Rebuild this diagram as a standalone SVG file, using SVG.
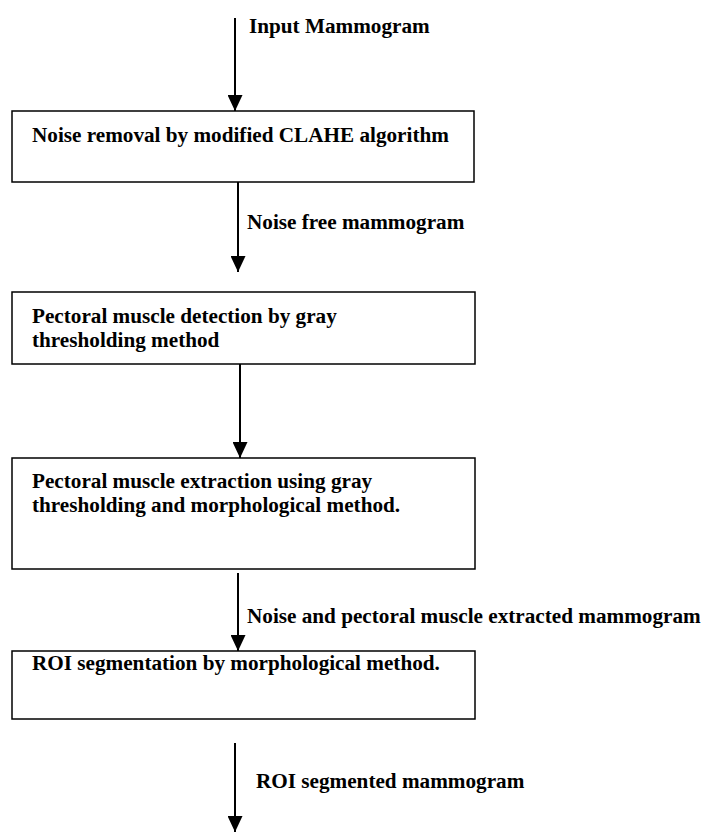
<svg xmlns="http://www.w3.org/2000/svg" width="705" height="832" viewBox="0 0 705 832">
<defs>
<marker id="ah" viewBox="0 0 16 15" refX="16" refY="7.5" markerWidth="16" markerHeight="15" markerUnits="userSpaceOnUse" orient="auto">
<path d="M0,0 L16,7.5 L0,15 Z" fill="#000"/>
</marker>
<style>
.box{fill:#fff;stroke:#000;stroke-width:1.5}
.t{font-family:"Liberation Serif","Times New Roman",serif;font-weight:bold;font-size:21.2px;fill:#000}
.c{stroke:#000;stroke-width:2;fill:none}
</style>
</defs>
<rect width="705" height="832" fill="#fff"/>
<g id="connectors">
<line class="c" x1="235" y1="18" x2="235" y2="111" marker-end="url(#ah)"/>
<text class="t" x="249" y="33">Input Mammogram</text>
<line class="c" x1="238" y1="181" x2="238" y2="272" marker-end="url(#ah)"/>
<text class="t" x="247" y="229">Noise free mammogram</text>
<line class="c" x1="240" y1="359" x2="240" y2="458" marker-end="url(#ah)"/>
<line class="c" x1="238" y1="573" x2="238" y2="651" marker-end="url(#ah)"/>
<text class="t" x="247" y="623">Noise and pectoral muscle extracted mammogram</text>
<line class="c" x1="235" y1="743" x2="235" y2="832" marker-end="url(#ah)"/>
<text class="t" x="256" y="788">ROI segmented mammogram</text>
</g>
<g id="n1">
<rect class="box" x="12" y="111" width="462" height="71"/>
<text class="t" x="32" y="142">Noise removal by modified CLAHE algorithm</text>
</g>
<g id="n2">
<rect class="box" x="12" y="292" width="463" height="72"/>
<text class="t" x="32" y="323">Pectoral muscle detection by gray</text>
<text class="t" x="32" y="347">thresholding method</text>
</g>
<g id="n3">
<rect class="box" x="12" y="458" width="463" height="111"/>
<text class="t" x="32" y="488">Pectoral muscle extraction using gray</text>
<text class="t" x="32" y="512">thresholding and morphological method.</text>
</g>
<g id="n4">
<rect class="box" x="12" y="651" width="463" height="68"/>
<text class="t" x="32" y="670">ROI segmentation by morphological method.</text>
</g>
</svg>
